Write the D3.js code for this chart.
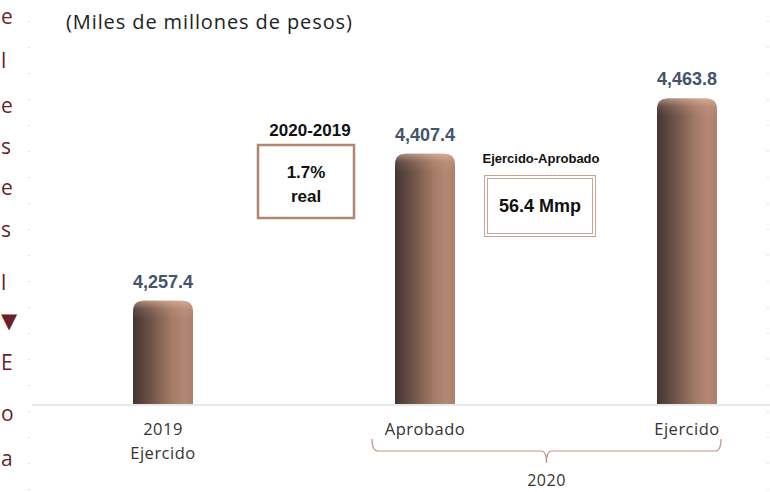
<!DOCTYPE html>
<html><head><meta charset="utf-8">
<script src="https://cdn.jsdelivr.net/npm/d3@7/dist/d3.min.js"></script>
<style>html,body{margin:0;padding:0;background:#fff;}svg{display:block;}</style>
</head><body>
<svg id="c" width="770" height="492"></svg>
<script>
const categories = ["2019|Ejercido", "Aprobado", "Ejercido"];
const values = [4257.4, 4407.4, 4463.8];
const valueLabels = ["4,257.4", "4,407.4", "4,463.8"];
const groupLabel = "2020";
const title = "(Miles de millones de pesos)";
const note1Title = "2020-2019", note1Lines = ["1.7%", "real"];
const note2Title = "Ejercido-Aprobado", note2Text = "56.4 Mmp";
const sideLetters = ["e","l","e","s","e","s","l","\u25BC","E","o","a"];
const sideY = [24, 68, 113, 154, 195, 237, 290, 328, 370, 421, 466];

const svg = d3.select("#c");
const defs = svg.append("defs");
const g1 = defs.append("linearGradient").attr("id","barG").attr("x1","0").attr("x2","1").attr("y1","0").attr("y2","0");
[[0,"#433430"],[0.3,"#6f5448"],[0.65,"#a47b67"],[0.85,"#b38773"],[1,"#ab806d"]].forEach(([o,c])=>g1.append("stop").attr("offset",o).attr("stop-color",c));
const g2 = defs.append("linearGradient").attr("id","topG").attr("x1","0").attr("x2","0").attr("y1","0").attr("y2","1");
[[0,"#f4c8b0",0.55],[0.45,"#f0c0a8",0.15],[1,"#f0c0a8",0]].forEach(([o,c,a])=>g2.append("stop").attr("offset",o).attr("stop-color",c).attr("stop-opacity",a));

const x = d3.scalePoint().domain(categories).range([32, 818]).padding(0.5);
const y = d3.scaleLinear().domain([4152, 4500]).range([404, 63]);
const bw = 60, r = 11;

// dotted verticals
[29, 768].forEach(xx => svg.append("line").attr("x1",xx).attr("x2",xx).attr("y1",21).attr("y2",492)
  .attr("stroke","#c4c4c4").attr("stroke-width",1).attr("stroke-dasharray","1,25"));

// side fragments (text of a neighbouring column at the left edge)
svg.append("g").selectAll("text").data(sideLetters).join("text")
  .attr("x",1).attr("y",(d,i)=>sideY[i]).attr("text-anchor","start")
  .attr("font-family","Open Sans, DejaVu Sans").attr("font-size",21).attr("fill","#6b1f2b").text(d=>d);

// title
svg.append("text").attr("x",66).attr("y",29).attr("font-family","Open Sans").attr("font-size",20)
  .attr("letter-spacing",0.9).attr("fill","#222").text(title);

// baseline
svg.append("line").attr("x1",32).attr("x2",770).attr("y1",405).attr("y2",405).attr("stroke","#dce0e7").attr("stroke-width",1.5);

function barPath(cx, top, bottom){
  const l = cx - bw/2, rr = cx + bw/2;
  return `M${l},${bottom}V${top+r}Q${l},${top} ${l+r},${top}H${rr-r}Q${rr},${top} ${rr},${top+r}V${bottom}Z`;
}
const bars = svg.append("g");
categories.forEach((c,i)=>{
  const cx = x(c), top = y(values[i]), bottom = y(4152);
  bars.append("path").attr("d", barPath(cx, top, bottom)).attr("fill","url(#barG)");
  bars.append("path").attr("d", barPath(cx, top, top+18)).attr("fill","url(#topG)");
  bars.append("text").attr("x",cx).attr("y",top-13).attr("text-anchor","middle")
    .attr("font-family","Liberation Sans").attr("font-weight","bold").attr("font-size",18)
    .attr("fill","#44546a").text(valueLabels[i]);
  const parts = c.split("|");
  parts.forEach((p,j)=>svg.append("text").attr("x",cx).attr("y",435+j*24).attr("text-anchor","middle")
    .attr("font-family","Open Sans").attr("font-size",16.5).attr("letter-spacing",0.5).attr("fill","#333").text(p));
});

// brace
const bx0 = 372, bx1 = 721, bm = (bx0+bx1)/2;
svg.append("path").attr("d",
  `M${bx0},439 Q${bx0},451 ${bx0+6},451 H${bm-5} Q${bm},451 ${bm},463 Q${bm},451 ${bm+5},451 H${bx1-6} Q${bx1},451 ${bx1},439`)
  .attr("fill","none").attr("stroke","#c49584").attr("stroke-width",1.2);
svg.append("text").attr("x",bm).attr("y",486).attr("text-anchor","middle")
  .attr("font-family","Open Sans").attr("font-size",16).attr("letter-spacing",0.5).attr("fill","#333").text(groupLabel);

// note 1
svg.append("text").attr("x",310).attr("y",136).attr("text-anchor","middle").attr("font-family","Liberation Sans")
  .attr("font-weight","bold").attr("font-size",17).attr("fill","#111").text(note1Title);
svg.append("rect").attr("x",258).attr("y",145).attr("width",96).attr("height",73)
  .attr("fill","#fff").attr("stroke","#b08672").attr("stroke-width",2.5);
note1Lines.forEach((t,i)=>svg.append("text").attr("x",306).attr("y",178+i*24).attr("text-anchor","middle")
  .attr("font-family","Liberation Sans").attr("font-weight","bold").attr("font-size",17).attr("fill","#111").text(t));

// note 2
svg.append("text").attr("x",541).attr("y",163).attr("text-anchor","middle").attr("font-family","Liberation Sans")
  .attr("font-weight","bold").attr("font-size",13).attr("fill","#111").text(note2Title);
svg.append("rect").attr("x",484.5).attr("y",175.5).attr("width",111).attr("height",61)
  .attr("fill","#fff").attr("stroke","#c9a393").attr("stroke-width",1);
svg.append("rect").attr("x",487.5).attr("y",178.5).attr("width",105).attr("height",55)
  .attr("fill","none").attr("stroke","#c9a393").attr("stroke-width",1);
svg.append("text").attr("x",540).attr("y",212).attr("text-anchor","middle").attr("font-family","Liberation Sans")
  .attr("font-weight","bold").attr("font-size",18).attr("fill","#111").text(note2Text);
</script>
</body></html>
